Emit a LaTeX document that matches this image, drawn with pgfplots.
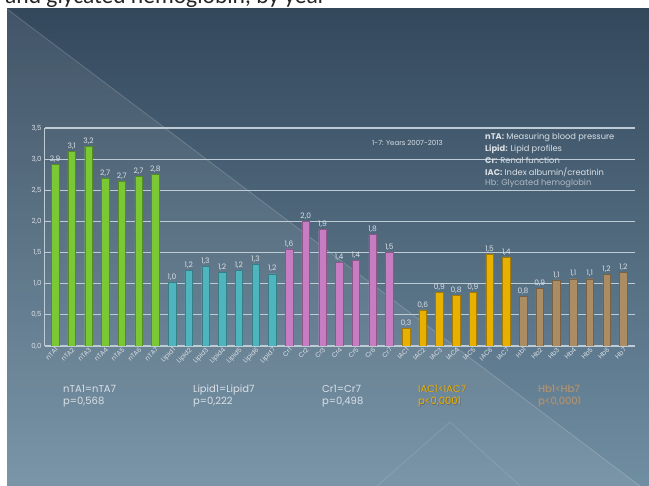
\documentclass[border=0pt]{standalone}
\usepackage{pgfplots}
\pgfplotsset{compat=1.18}
\usepackage{pgfplotstable}
\usepackage{fontspec}
\setmainfont{Poppins}
\newfontfamily\calibri{Carlito}

\definecolor{bgtop}{RGB}{52,72,92}
\definecolor{bgbot}{RGB}{112,142,162}
\definecolor{gridc}{RGB}{190,204,214}
\definecolor{txt}{RGB}{218,224,230}
\definecolor{cNTA}{RGB}{122,200,52}
\definecolor{cLip}{RGB}{78,180,190}
\definecolor{cCr}{RGB}{200,125,195}
\definecolor{cIAC}{RGB}{232,176,0}
\definecolor{cHb}{RGB}{172,140,98}

% bar heights and the printed labels
\pgfplotstableread{
x y lab
0 2.92 2,9
1 3.12 3,1
2 3.21 3,2
3 2.70 2,7
4 2.65 2,7
5 2.72 2,7
6 2.76 2,8
}\ntatab
\pgfplotstableread{
x y lab
7 1.03 1,0
8 1.22 1,2
9 1.28 1,3
10 1.18 1,2
11 1.22 1,2
12 1.32 1,3
13 1.16 1,2
}\lipidtab
\pgfplotstableread{
x y lab
14 1.56 1,6
15 2.00 2,0
16 1.87 1,9
17 1.34 1,4
18 1.38 1,4
19 1.79 1,8
20 1.51 1,5
}\crtab
\pgfplotstableread{
x y lab
21 0.28 0,3
22 0.58 0,6
23 0.86 0,9
24 0.81 0,8
25 0.86 0,9
26 1.48 1,5
27 1.43 1,4
}\iactab
\pgfplotstableread{
x y lab
28 0.80 0,8
29 0.93 0,9
30 1.06 1,1
31 1.08 1,1
32 1.08 1,1
33 1.15 1,2
34 1.18 1,2
}\hbtab

\begin{document}
\begin{tikzpicture}
\useasboundingbox (0,0) rectangle (649pt,486pt);
\clip (0,0) rectangle (649pt,486pt);
\fill[white] (0,0) rectangle (649pt,486pt);
\node[anchor=base west, inner sep=0, text=black!85] at (5pt,482pt)
  {\calibri\fontsize{23.5}{25}\selectfont and glycated hemoglobin, by year};
% slide background
\shade[top color=bgtop, bottom color=bgbot] (7pt,0) rectangle (649pt,477pt);
\fill[white, opacity=0.07] (7pt,477pt) -- (640pt,0pt) -- (7pt,0pt) -- cycle;
\draw[white, opacity=0.18, line width=0.8pt] (7pt,477pt) -- (640pt,0pt);
\draw[white, opacity=0.12, line width=0.8pt] (377pt,0pt) -- (450pt,64pt) -- (520pt,0pt);

\begin{axis}[
  at={(45pt,140pt)}, anchor=south west,
  scale only axis, width=590pt, height=218pt,
  xmin=-0.6, xmax=34.7, ymin=0, ymax=3.5,
  ytick={0,0.5,...,3.5},
  xtick={0,...,34},
  xticklabels={nTA1,nTA2,nTA3,nTA4,nTA5,nTA6,nTA7,
    Lipid1,Lipid2,Lipid3,Lipid4,Lipid5,Lipid6,Lipid7,
    Cr1,Cr2,Cr3,Cr4,Cr5,Cr6,Cr7,
    IAC1,IAC2,IAC3,IAC4,IAC5,IAC6,IAC7,
    Hb1,Hb2,Hb3,Hb4,Hb5,Hb6,Hb7},
  axis x line*=bottom, axis y line*=left,
  axis line style={gridc, line width=1pt, -},
  ymajorgrids, grid style={gridc, line width=1.2pt},
  major tick length=0pt,
  yticklabel style={font=\fontsize{7}{8}\selectfont, text=txt},
  xticklabel style={rotate=45, anchor=north east, inner sep=0.5pt,
    font=\fontsize{6.5}{7}\selectfont, text=txt},
  /pgf/number format/.cd, fixed, fixed zerofill, precision=1, use comma,
  assume math mode=true, /pgfplots/.cd,
  ybar, bar width=7.5pt,
  point meta=explicit symbolic,
  nodes near coords,
  every node near coord/.append style={font=\fontsize{7.5}{8}\selectfont,
    text=txt, inner sep=1.5pt},
]
\addplot[bar shift=0pt, fill=cNTA, draw=cNTA!70!black] table[x=x, y=y, meta=lab] {\ntatab};
\addplot[bar shift=0pt, fill=cLip, draw=cLip!70!black] table[x=x, y=y, meta=lab] {\lipidtab};
\addplot[bar shift=0pt, fill=cCr, draw=cCr!70!black] table[x=x, y=y, meta=lab] {\crtab};
\addplot[bar shift=0pt, fill=cIAC, draw=cIAC!70!black] table[x=x, y=y, meta=lab] {\iactab};
\addplot[bar shift=0pt, fill=cHb, draw=cHb!70!black] table[x=x, y=y, meta=lab] {\hbtab};
\end{axis}

% legend text block
\begin{scope}[every node/.style={anchor=west, inner sep=0, text=txt,
    font=\fontsize{8.3}{9}\selectfont}]
\node at (372pt,343pt) {\fontsize{7}{8}\selectfont 1-7: Years 2007-2013};
\node at (485pt,349pt) {\textbf{nTA:} Measuring blood pressure};
\node at (485pt,337pt) {\textbf{Lipid:} Lipid profiles};
\node at (485pt,326pt) {\textbf{Cr:} Renal function};
\node at (485pt,314pt) {\textbf{IAC:} Index albumin/creatinin};
\node[text=txt!75!bgtop] at (485pt,303pt) {Hb: Glycated hemoglobin};
\end{scope}

% test results under the groups
\begin{scope}[every node/.style={anchor=west, inner sep=0, align=left,
    font=\fontsize{10}{12.5}\selectfont}]
\node[text=txt] at (63pt,90pt) {nTA1=nTA7\\p=0,568};
\node[text=txt] at (193pt,90pt) {Lipid1=Lipid7\\p=0,222};
\node[text=txt] at (322pt,90pt) {Cr1=Cr7\\p=0,498};
\node[text=black!60] at (418.7pt,89.3pt) {IAC1<IAC7\\p<0,0001};
\node[text=cIAC] at (418pt,90pt) {IAC1<IAC7\\p<0,0001};
\node[text=black!50] at (538.7pt,89.3pt) {Hb1<Hb7\\p<0,0001};
\node[text=cHb!90!white] at (538pt,90pt) {Hb1<Hb7\\p<0,0001};
\end{scope}
\end{tikzpicture}
\end{document}
